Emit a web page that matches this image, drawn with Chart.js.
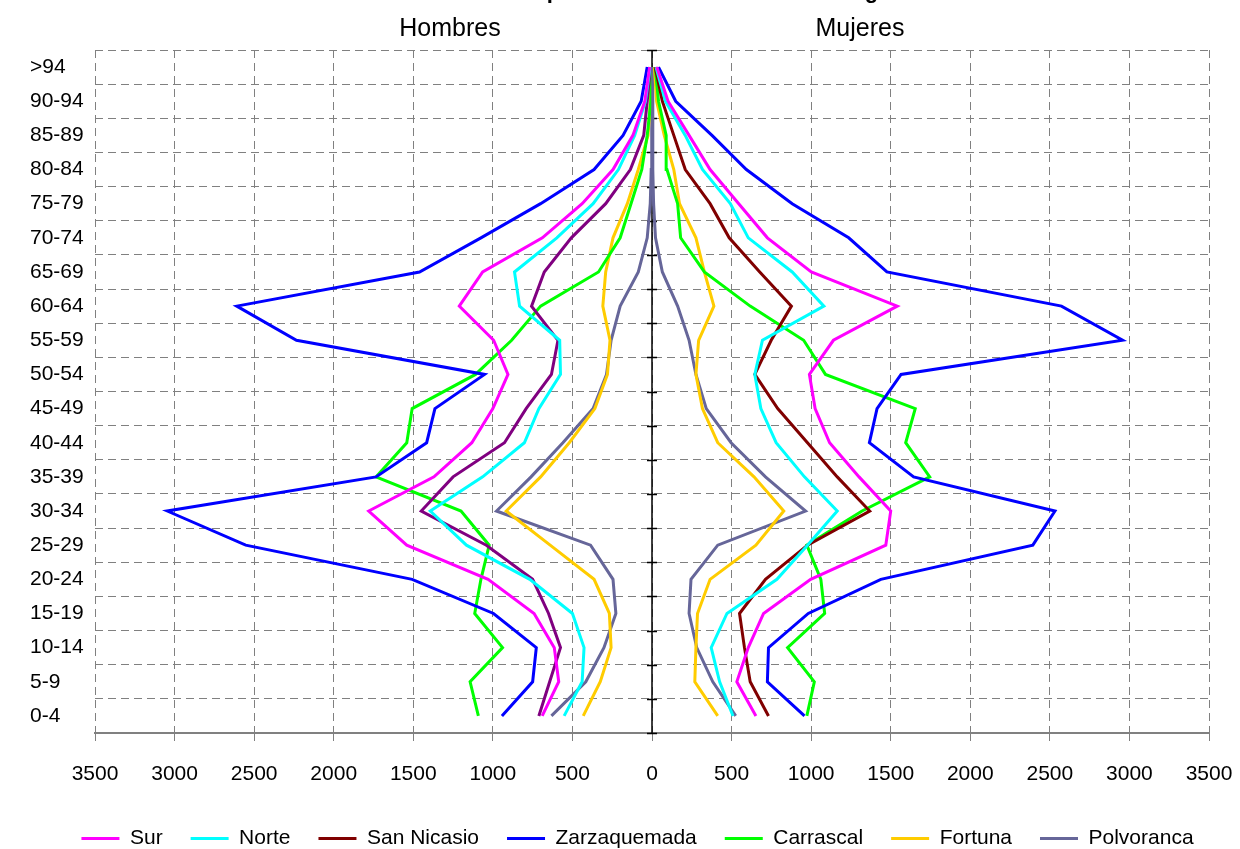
<!DOCTYPE html>
<html>
<head>
<meta charset="utf-8">
<title>Pirámides de población - Leganés</title>
<script src="https://cdn.jsdelivr.net/npm/chart.js@4.4.1/dist/chart.umd.min.js"></script>
<style>
  html, body { margin: 0; padding: 0; background: #ffffff; }
  #wrap { width: 1240px; height: 849px; }
</style>
</head>
<body>
<div id="wrap"><canvas id="pyramid" width="1240" height="849"></canvas></div>
<script>
// age groups, bottom to top
const ageGroups = ['0-4', '5-9', '10-14', '15-19', '20-24', '25-29', '30-34', '35-39', '40-44', '45-49',
                   '50-54', '55-59', '60-64', '65-69', '70-74', '75-79', '80-84', '85-89', '90-94', '>94'];

const barrios = ['Sur', 'Norte', 'San Nicasio', 'Zarzaquemada', 'Carrascal', 'Fortuna', 'Polvoranca'];
const colorsMujeres = ['#FF00FF', '#00FFFF', '#800000', '#0000FF', '#00FF00', '#FFCC00', '#666699'];
const colorsHombres = ['#FF00FF', '#00FFFF', '#800080', '#0000FF', '#00FF00', '#FFCC00', '#666699'];

// Hombres (left side)
const surH          = [690, 586, 614, 741, 1030, 1541, 1780, 1370, 1132, 1000, 905, 995, 1211, 1064, 689, 439, 245, 120, 45, 15];
const norteH        = [552, 439, 427, 500, 768, 1166, 1393, 1064, 802, 711, 575, 580, 832, 864, 598, 370, 211, 109, 41, 12];
const sanNicasioH   = [711, 643, 575, 650, 750, 1041, 1450, 1250, 927, 791, 632, 591, 757, 677, 507, 291, 136, 52, 30, 10];
const zarzaquemadaH = [943, 750, 727, 996, 1507, 2553, 3046, 1734, 1416, 1364, 1052, 2234, 2609, 1461, 1075, 700, 364, 182, 68, 30];
const carrascalH    = [1091, 1143, 939, 1114, 1075, 1023, 1200, 1734, 1541, 1507, 1109, 882, 700, 336, 200, 132, 64, 30, 7, 5];
const fortunaH      = [432, 325, 257, 268, 364, 640, 916, 700, 520, 359, 280, 264, 309, 291, 245, 155, 86, 25, 10, 5];
const polvorancaH   = [632, 416, 302, 227, 245, 386, 977, 760, 560, 370, 286, 257, 200, 86, 30, 11, 5, 3, 1, 1];

// Mujeres (right side)
const surM          = [653, 533, 605, 701, 997, 1469, 1500, 1301, 1116, 1025, 989, 1140, 1541, 1001, 725, 545, 365, 233, 101, 30];
const norteM        = [509, 425, 372, 471, 785, 977, 1164, 958, 780, 684, 646, 694, 1080, 881, 605, 492, 317, 209, 84, 25];
const sanNicasioM   = [732, 617, 581, 550, 713, 977, 1368, 1164, 977, 790, 646, 749, 876, 677, 485, 365, 209, 137, 65, 20];
const zarzaquemadaM = [958, 725, 732, 982, 1438, 2393, 2532, 1644, 1366, 1414, 1565, 2957, 2573, 1476, 1236, 881, 593, 377, 149, 41];
const carrascalM    = [973, 1020, 852, 1085, 1061, 973, 1320, 1745, 1594, 1654, 1090, 953, 617, 329, 180, 161, 94, 89, 41, 20];
const fortunaM      = [413, 269, 276, 286, 365, 653, 828, 641, 413, 317, 276, 293, 389, 329, 276, 173, 137, 77, 29, 15];
const polvorancaM   = [526, 382, 281, 233, 245, 413, 965, 713, 497, 341, 276, 233, 161, 65, 22, 10, 5, 5, 5, 5];

const hombres = [surH, norteH, sanNicasioH, zarzaquemadaH, carrascalH, fortunaH, polvorancaH];
const mujeres = [surM, norteM, sanNicasioM, zarzaquemadaM, carrascalM, fortunaM, polvorancaM];

const FONT = "'Liberation Sans', Arial, sans-serif";

let datasets = [];
barrios.forEach((name, i) => {
    datasets.push({
        label: name,
        data: mujeres[i],
        borderColor: colorsMujeres[i],
        backgroundColor: colorsMujeres[i],
        borderWidth: 3,
        pointRadius: 0,
        tension: 0
    });
});
barrios.forEach((name, i) => {
    datasets.push({
        label: name + ' (H)',
        data: hombres[i].map(v => -v),
        borderColor: colorsHombres[i],
        backgroundColor: colorsHombres[i],
        borderWidth: 3,
        pointRadius: 0,
        tension: 0
    });
});

// centre axis, side captions and the (clipped) title
const pyramidExtras = {
    id: 'pyramidExtras',
    afterLayout(chart) {
        const lg = chart.legend;
        if (lg) {
            lg.left += 18; lg.right += 18;
            lg.top += 10; lg.bottom += 10;
        }
    },
    beforeDatasetsDraw(chart) {
        const {ctx, chartArea} = chart;
        const x0 = chart.scales.x.getPixelForValue(0);
        const n = ageGroups.length;
        const step = (chartArea.bottom - chartArea.top) / n;
        ctx.save();
        ctx.strokeStyle = '#000000';
        ctx.lineWidth = 1.5;
        ctx.beginPath();
        ctx.moveTo(x0, chartArea.top);
        ctx.lineTo(x0, chartArea.bottom);
        for (let i = 0; i <= n; i++) {
            const y = Math.round(chartArea.top + i * step) + 0.5;
            ctx.moveTo(x0 - 5, y);
            ctx.lineTo(x0 + 5, y);
        }
        ctx.stroke();
        ctx.restore();
    },
    afterDraw(chart) {
        const ctx = chart.ctx;
        ctx.save();
        ctx.fillStyle = '#000000';
        ctx.textAlign = 'center';
        ctx.textBaseline = 'alphabetic';
        ctx.font = '25px ' + FONT;
        ctx.fillText('Hombres', 450, 36);
        ctx.fillText('Mujeres', 860, 36);
        ctx.font = 'bold 22px ' + FONT;
        ctx.fillText('Pirámides de población de los barrios de Leganés', 666, -2);
        ctx.restore();
    }
};

new Chart(document.getElementById('pyramid'), {
    type: 'line',
    data: { labels: ageGroups, datasets: datasets },
    plugins: [pyramidExtras],
    options: {
        responsive: false,
        animation: false,
        indexAxis: 'y',
        layout: { padding: { left: 30, right: 31, top: 50, bottom: 0 } },
        scales: {
            x: {
                type: 'linear',
                min: -3500,
                max: 3500,
                afterFit: (scale) => {
                    scale.height = 57;
                    scale.paddingLeft = 0;
                    scale.paddingRight = 0;
                },
                ticks: {
                    stepSize: 500,
                    color: '#000000',
                    padding: 21,
                    maxRotation: 0,
                    font: { family: FONT, size: 21 },
                    callback: (v) => Math.abs(v)
                },
                grid: {
                    color: '#808080',
                    lineWidth: 1,
                    tickLength: 8,
                    tickColor: '#808080',
                    tickWidth: 1,
                    tickBorderDash: []
                },
                border: { display: true, color: '#808080', width: 2, dash: [8, 5] }
            },
            y: {
                type: 'category',
                reverse: true,
                offset: true,
                afterFit: (scale) => { scale.width = 65; },
                ticks: {
                    color: '#000000',
                    crossAlign: 'far',
                    autoSkip: false,
                    font: { family: FONT, size: 21 }
                },
                grid: {
                    offset: true,
                    color: '#808080',
                    lineWidth: 1,
                    drawTicks: false
                },
                border: { display: false, dash: [8, 5] }
            }
        },
        plugins: {
            legend: {
                position: 'bottom',
                labels: {
                    filter: (item) => item.datasetIndex < barrios.length,
                    usePointStyle: true,
                    pointStyle: 'line',
                    pointStyleWidth: 38,
                    padding: 28,
                    color: '#000000',
                    font: { family: FONT, size: 21 }
                }
            },
            tooltip: { enabled: false }
        }
    }
});
</script>
</body>
</html>
